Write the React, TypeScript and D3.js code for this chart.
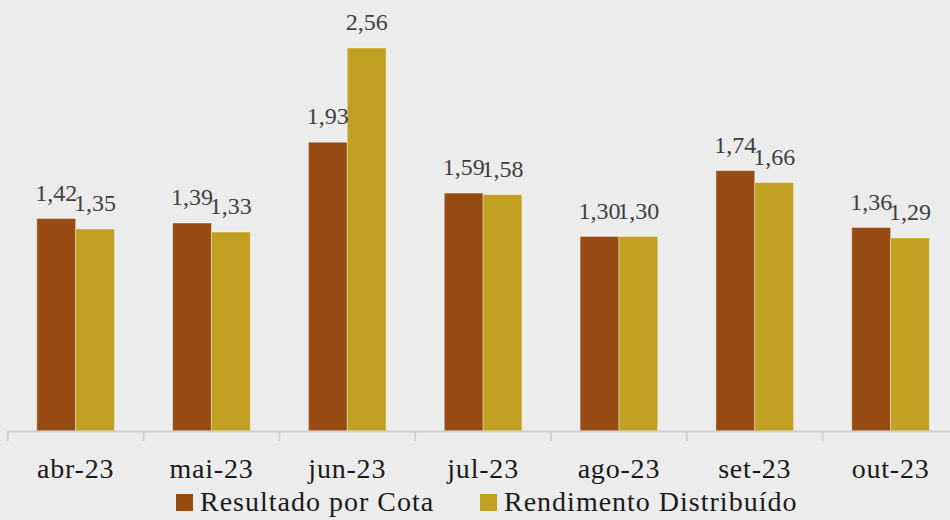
import React from "react";
import * as d3 from "d3";

const categories = ["abr-23", "mai-23", "jun-23", "jul-23", "ago-23", "set-23", "out-23"];
const resultadoPorCota = [1.42, 1.39, 1.93, 1.59, 1.30, 1.74, 1.36];
const rendimentoDistribuido = [1.35, 1.33, 2.56, 1.58, 1.30, 1.66, 1.29];
const seriesNames = ["Resultado por Cota", "Rendimento Distribuído"];
const seriesColors = ["#954B11", "#C1A021"];

const W = 950;
const H = 520;
const FONT = "Liberation Serif";

export default function App() {
  const x = d3.scaleBand<string>().domain(categories).range([7.7, 958.5]).paddingInner(0).paddingOuter(0);
  const inner = d3.scaleBand<number>().domain([0, 1]).range([0, 77.6]);
  const groupOffset = (x.bandwidth() - 77.6) / 2;
  const y = d3.scaleLinear().domain([0, 2.56]).range([431, 48]);
  const fmt = (v: number) => v.toFixed(2).replace(".", ",");
  const series = [resultadoPorCota, rendimentoDistribuido];

  return (
    <svg
      width={W}
      height={H}
      style={{ position: "absolute", left: 0, top: 0, background: "#ECECEC" }}
    >
      <rect x={0} y={0} width={W} height={H} fill="#ECECEC" />
      {series.map((vals, si) =>
        vals.map((v, i) => {
          const bx = (x(categories[i]) as number) + groupOffset + (inner(si) as number);
          return (
            <rect
              key={`b${si}-${i}`}
              x={bx}
              y={y(v)}
              width={inner.bandwidth()}
              height={y(0) - y(v)}
              fill={seriesColors[si]}
              stroke="rgba(255,255,255,0.35)"
              strokeWidth={1}
            />
          );
        })
      )}
      {series.map((vals, si) =>
        vals.map((v, i) => {
          const bx = (x(categories[i]) as number) + groupOffset + (inner(si) as number) + inner.bandwidth() / 2;
          return (
            <text
              key={`l${si}-${i}`}
              x={bx}
              y={y(v) - 18}
              textAnchor="middle"
              style={{ fontFamily: FONT }}
              fontSize={24}
              fill="#404040"
            >
              {fmt(v)}
            </text>
          );
        })
      )}
      <line x1={7.7} x2={958.5} y1={431.5} y2={431.5} stroke="#D0D0D0" strokeWidth={2} />
      {categories.concat(["_end"]).map((c, i) => {
        const tx = 7.7 + i * x.step();
        return <line key={`t${i}`} x1={tx} x2={tx} y1={431} y2={441} stroke="#D0D0D0" strokeWidth={2} />;
      })}
      {categories.map((c) => (
        <text
          key={`c${c}`}
          x={(x(c) as number) + x.bandwidth() / 2}
          y={478}
          textAnchor="middle"
          style={{ fontFamily: FONT }}
          fontSize={28}
          letterSpacing={0.8}
          fill="#1A1A1A"
        >
          {c}
        </text>
      ))}
      {seriesNames.map((n, si) => {
        const lx = si === 0 ? 176 : 480;
        return (
          <g key={`lg${si}`}>
            <rect x={lx} y={494} width={17} height={17} fill={seriesColors[si]} />
            <text
              x={lx + 24}
              y={511}
              style={{ fontFamily: FONT }}
              fontSize={28}
              letterSpacing={1.0}
              fill="#1A1A1A"
            >
              {n}
            </text>
          </g>
        );
      })}
    </svg>
  );
}
